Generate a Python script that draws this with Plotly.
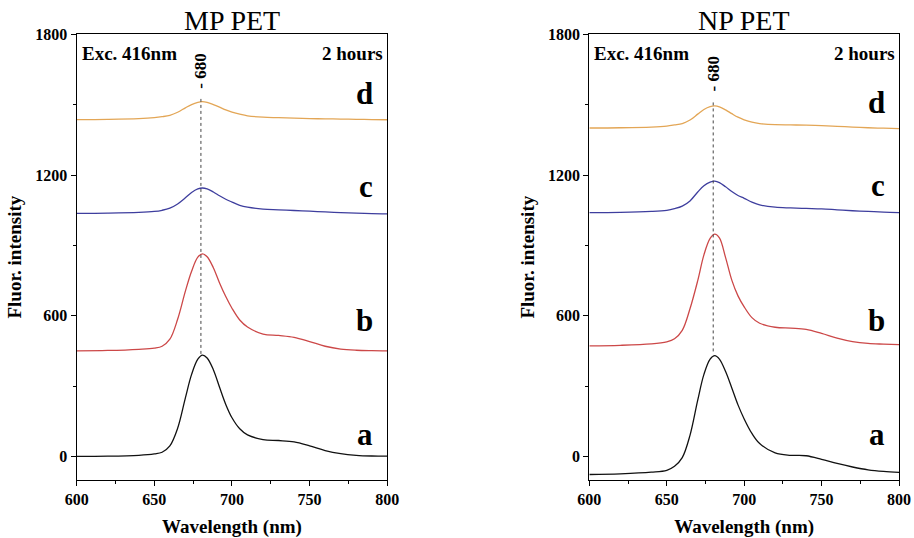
import plotly.graph_objects as go

# ---------------- data ----------------
wavelength = [600, 620, 640, 650, 655, 660, 665, 670, 674, 678, 681, 684, 688, 692,
              696, 700, 705, 710, 720, 730, 740, 750, 760, 770, 780, 790, 800]

mp_a = [0, 1, 5, 11, 18, 45, 120, 250, 350, 415, 432, 420, 370, 295,
        222, 165, 118, 92, 72, 68, 62, 45, 25, 12, 5, 2, 1]
mp_b = [450, 452, 457, 462, 470, 500, 585, 705, 790, 850, 864, 852, 805, 740,
        682, 632, 582, 552, 522, 516, 508, 490, 470, 458, 453, 451, 450]
mp_c = [1037, 1038, 1041, 1045, 1050, 1059, 1077, 1103, 1126, 1141, 1145, 1141, 1128, 1112,
        1097, 1085, 1071, 1063, 1055, 1052, 1049, 1046, 1043, 1040, 1038, 1036, 1035]
mp_d = [1437, 1438, 1441, 1445, 1449, 1455, 1468, 1487, 1501, 1510, 1513, 1510, 1501, 1490,
        1478, 1469, 1460, 1453, 1447, 1445, 1443, 1441, 1440, 1439, 1438, 1437, 1436]

np_a = [-77, -74, -67, -59, -42, -5, 90, 240, 350, 415, 430, 415, 362, 292,
        220, 160, 98, 55, 15, 5, 3, -12, -30, -45, -57, -64, -68]
np_b = [472, 474, 480, 489, 502, 538, 630, 750, 860, 930, 948, 932, 848, 752,
        685, 638, 592, 568, 551, 547, 542, 525, 505, 490, 482, 479, 477]
np_c = [1040, 1041, 1045, 1050, 1057, 1068, 1090, 1128, 1155, 1170, 1174, 1168, 1150, 1130,
        1113, 1101, 1085, 1073, 1063, 1060, 1058, 1056, 1052, 1048, 1045, 1042, 1040]
np_d = [1401, 1402, 1405, 1409, 1414, 1420, 1435, 1460, 1480, 1492, 1495, 1491, 1478, 1462,
        1447, 1436, 1426, 1420, 1415, 1414, 1413, 1411, 1408, 1405, 1402, 1400, 1398]

series_labels = ["a", "b", "c", "d"]
panel_titles = ["MP PET", "NP PET"]
peak_wavelength = 680
x_ticks = [600, 650, 700, 750, 800]
y_ticks = [0, 600, 1200, 1800]

colors = ["#111111", "#cc4848", "#3e3e9e", "#e3a656"]
FONT = "Liberation Serif, Times New Roman, serif"

fig = go.Figure()

panels = [
    (panel_titles[0], [mp_a, mp_b, mp_c, mp_d], "x", "y"),
    (panel_titles[1], [np_a, np_b, np_c, np_d], "x2", "y2"),
]

for title, data, xa, ya in panels:
    for s, col in zip(data, colors):
        fig.add_trace(go.Scatter(x=wavelength, y=s, mode="lines",
                                 line=dict(color=col, width=1.3, shape="spline", smoothing=1.0),
                                 xaxis=xa, yaxis=ya, showlegend=False, hoverinfo="skip"))
    # dotted reference line at the peak wavelength
    top = 1525 if xa == "x" else 1510
    fig.add_trace(go.Scatter(x=[peak_wavelength, peak_wavelength], y=[top, max(data[0]) + 5],
                             mode="lines", line=dict(color="#444444", width=1, dash="dot"),
                             xaxis=xa, yaxis=ya, showlegend=False, hoverinfo="skip"))

doms_x = [[0.0839, 0.4237], [0.6448, 0.9836]]
dom_y = [0.108, 0.936]

axis_common = dict(showline=True, linecolor="black", linewidth=1.3, mirror=True,
                   ticks="outside", ticklen=5, tickwidth=1.2, tickcolor="black",
                   showgrid=False, zeroline=False, automargin=False,
                   tickfont=dict(family=FONT, size=16, color="black", weight="bold"))

layout = dict(width=914, height=538, margin=dict(l=0, r=0, t=0, b=0),
              plot_bgcolor="white", paper_bgcolor="white", showlegend=False)

for i, (xa, ya) in enumerate([("xaxis", "yaxis"), ("xaxis2", "yaxis2")]):
    xk = dict(axis_common, domain=doms_x[i], range=[600, 800], tickvals=x_ticks,
              minor=dict(ticklen=3, tickwidth=1, dtick=25, tick0=600, ticks="outside", tickcolor="black"),
              title=dict(text="<b>Wavelength (nm)</b>", font=dict(family=FONT, size=19, color="black"),
                         standoff=14),
              anchor="y" if i == 0 else "y2")
    yk = dict(axis_common, domain=dom_y, range=[-100, 1800], tickvals=y_ticks,
              minor=dict(ticklen=3, tickwidth=1, dtick=300, tick0=0, ticks="outside", tickcolor="black"),
              title=dict(text="<b>Fluor. intensity</b>", font=dict(family=FONT, size=19, color="black"),
                         standoff=8),
              anchor="x" if i == 0 else "x2")
    layout[xa] = xk
    layout[ya] = yk

fig.update_layout(**layout)

ann = []
letter_pos = {
    "x": [95, 578, 1151, 1548],
    "x2": [94, 580, 1155, 1509],
}
for i, (xa, ya) in enumerate([("x", "y"), ("x2", "y2")]):
    d0, d1 = doms_x[i]
    ann.append(dict(text=panel_titles[i], x=(d0 + d1) / 2, y=1 - 21 / 538, xref="paper", yref="paper",
                    xanchor="center", yanchor="middle",
                    showarrow=False, font=dict(family=FONT, size=28, color="black")))
    ann.append(dict(text="<b>Exc. 416nm</b>", x=d0 + 3 / 914, y=1 - 53 / 538, xref="paper", yref="paper",
                    xanchor="left", yanchor="middle", showarrow=False,
                    font=dict(family=FONT, size=19, color="black")))
    ann.append(dict(text="<b>2 hours</b>", x=d1 - 2 / 914, y=1 - 53 / 538, xref="paper", yref="paper",
                    xanchor="right", yanchor="middle", showarrow=False,
                    font=dict(family=FONT, size=19, color="black")))
    ann.append(dict(text="<b>- %d</b>" % peak_wavelength, x=peak_wavelength, y=1645 if i == 0 else 1630,
                    xref=xa, yref=ya, textangle=-90, showarrow=False,
                    xanchor="center", yanchor="middle",
                    font=dict(family=FONT, size=17, color="black")))
    for lab, yv in zip(series_labels, letter_pos[xa]):
        ann.append(dict(text="<b>%s</b>" % lab, x=792, y=yv, xref=xa, yref=ya, showarrow=False,
                        xanchor="right", yanchor="middle",
                        font=dict(family=FONT, size=31, color="black")))

fig.update_layout(annotations=ann)
fig.write_html("out.html")
